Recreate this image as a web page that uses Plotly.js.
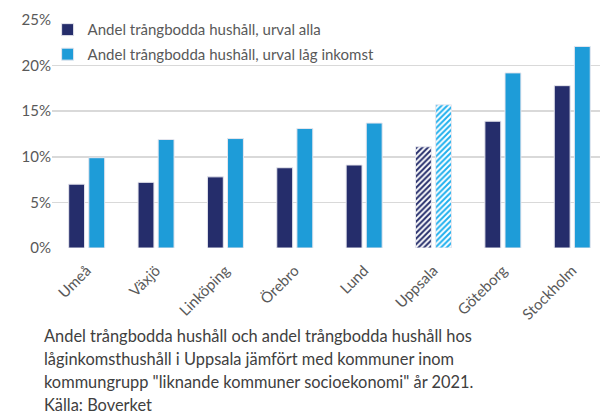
<!DOCTYPE html>
<html><head><meta charset="utf-8">
<script src="https://cdn.plot.ly/plotly-3.0.1.min.js"></script>
<style>html,body{margin:0;padding:0;background:#fff;}#chart{width:600px;height:413px;}</style>
</head><body><div id="chart"></div>
<script>
const categories = ["Umeå", "Växjö", "Linköping", "Örebro", "Lund", "Uppsala", "Göteborg", "Stockholm"];
const seriesNames = ["Andel trångbodda hushåll, urval alla", "Andel trångbodda hushåll, urval låg inkomst"];
const valuesAll = [7.0, 7.2, 7.8, 8.8, 9.1, 11.1, 13.9, 17.8];
const valuesLow = [9.9, 11.9, 12.0, 13.1, 13.7, 15.7, 19.2, 22.1];
const hatched = ["", "", "", "", "", "/", "", ""];
const yTickVals = [0, 5, 10, 15, 20, 25];
const yTickText = ["0%", "5%", "10%", "15%", "20%", "25%"];
const captionLines = [
  "Andel trångbodda hushåll och andel trångbodda hushåll hos",
  "låginkomsthushåll i Uppsala jämfört med kommuner inom",
  "kommungrupp \"liknande kommuner socioekonomi\" år 2021.",
  "Källa: Boverket"
];
const darkColor = "#252D6B", lightColor = "#1E9CD8";
const font = "Lato, 'Open Sans', sans-serif";

function trace(name, vals, color, hatchColor, grp) {
  return {
    type: "bar", name: name, x: categories, y: vals, legendgroup: grp,
    marker: {
      color: color,
      line: {color: "#E6E6EE", width: 1},
      pattern: {shape: hatched, fgcolor: hatchColor, bgcolor: "#ffffff", fillmode: "replace", size: 4, solidity: 0.5}
    },
    hoverinfo: "skip"
  };
}
const data = [trace(seriesNames[0], valuesAll, darkColor, darkColor, "a"),
              trace(seriesNames[1], valuesLow, lightColor, "#1FB0EE", "b")];

const layout = {
  width: 600, height: 413,
  margin: {l: 52, r: 0, t: 20, b: 165},
  paper_bgcolor: "#fff", plot_bgcolor: "#fff",
  barmode: "group", bargap: 0.42, bargroupgap: 0.21,
  showlegend: true,
  legend: {x: -0.008, y: 1.029, xanchor: "left", yanchor: "top", bgcolor: "rgba(0,0,0,0)",
           font: {family: font, size: 15, color: "#595959"}, tracegroupgap: 2, itemwidth: 30},
  xaxis: {range: [-0.5, 7.4], tickangle: -45, tickfont: {family: font, size: 15, color: "#595959"},
          ticks: "outside", ticklen: 7, tickcolor: "rgba(0,0,0,0)",
          showgrid: false, zeroline: false, showline: false, fixedrange: true},
  yaxis: {range: [0, 25], tickvals: yTickVals, ticktext: yTickText,
          tickfont: {family: font, size: 15, color: "#595959"},
          showgrid: true, gridcolor: "#D9D9D9", gridwidth: 1.5, zeroline: false, showline: false,
          ticks: "", ticklen: 0, fixedrange: true},
  annotations: captionLines.map((t, i) => ({
    text: t, xref: "paper", yref: "paper", x: -0.017, xanchor: "left",
    y: 0, yshift: -87 - i * 23, yanchor: "middle", showarrow: false, borderpad: 0,
    font: {family: font, size: 16.4, color: "#404040"}, align: "left"
  }))
};
Plotly.newPlot("chart", data, layout, {displayModeBar: false, staticPlot: true});
</script></body></html>
